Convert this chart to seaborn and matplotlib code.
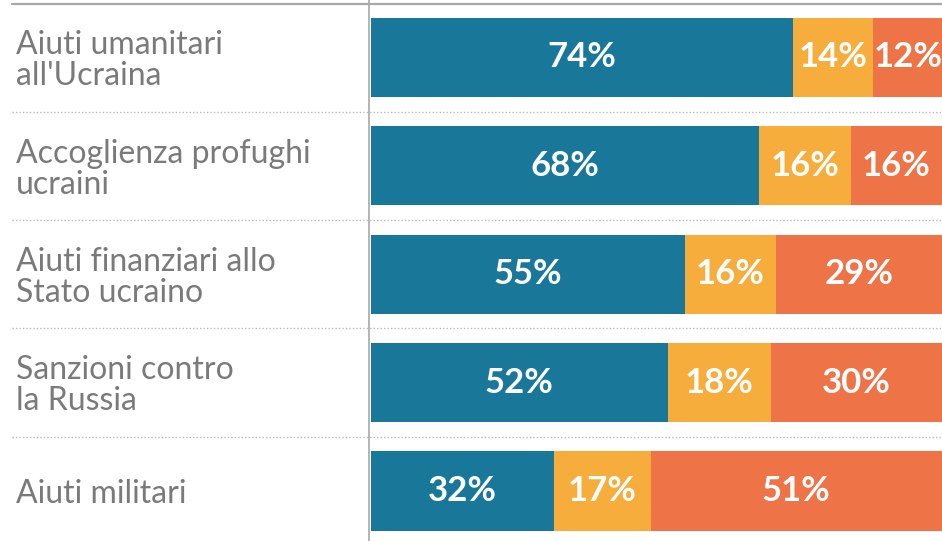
import pandas as pd
import seaborn as sns
from matplotlib import pyplot as plt

# data
categories = ["Aiuti umanitari\nall'Ucraina",
              "Accoglienza profughi\nucraini",
              "Aiuti finanziari allo\nStato ucraino",
              "Sanzioni contro\nla Russia",
              "Aiuti militari"]
favorevoli = [74, 68, 55, 52, 32]
neutrali = [14, 16, 16, 18, 17]
contrari = [12, 16, 29, 30, 51]

blue, yellow, orange = "#19789a", "#f6ad3c", "#ee7447"
label_gray = "#7a7a7a"

df = pd.DataFrame({"cat": categories, "fav": favorevoli,
                   "neu": neutrali, "con": contrari})
df["fav_neu"] = df["fav"] + df["neu"]
df["tot"] = df["fav_neu"] + df["con"]

sns.set_style("white")
plt.rcParams["font.family"] = ["Lato", "DejaVu Sans"]

fig = plt.figure(figsize=(9.42, 5.41), dpi=100)
ax = fig.add_axes([369 / 942, 0, 573 / 942, 1])

# stacked bars: draw cumulative totals back to front
for col, color in [("tot", orange), ("fav_neu", yellow), ("fav", blue)]:
    sns.barplot(data=df, x=col, y="cat", orient="h", color=color,
                width=0.73, saturation=1, linewidth=0, ax=ax)

ax.set_xlim(-0.3, 100)
ax.set_ylim(4 + 50 / 108.4, -57.5 / 108.4)
ax.set_xlabel("")
ax.set_ylabel("")
ax.set_xticks([])
ax.set_yticks([])
for s in ["top", "right", "bottom"]:
    ax.spines[s].set_visible(False)
ax.spines["left"].set_color("#a8a8a8")
ax.spines["left"].set_linewidth(1.2)

# segment labels
for i, row in df.iterrows():
    starts = [0, row["fav"], row["fav_neu"]]
    for start, val in zip(starts, [row["fav"], row["neu"], row["con"]]):
        ax.text(start + val / 2, i, f"{val}%", ha="center", va="center",
                color="white", fontsize=25, fontweight="bold")

# category labels on the left
trans = ax.get_yaxis_transform()
left = (16 - 369) / 573
for i, cat in enumerate(categories):
    ax.text(left, i + 0.03, cat, transform=trans, ha="left", va="center",
            color=label_gray, fontsize=23, linespacing=1.05)

# top rule and dotted separators
line_start = (12 - 369) / 573
ax.axhline(-0.492, xmin=line_start, xmax=1, color="#a8a8a8", lw=1.6, clip_on=False)
for y in [0.5, 1.5, 2.5, 3.5]:
    ax.axhline(y, xmin=line_start, xmax=1, color="#bbbbbb", lw=1,
               ls=(0, (1, 1.5)), clip_on=False)

fig.savefig("out.png", dpi=100)
